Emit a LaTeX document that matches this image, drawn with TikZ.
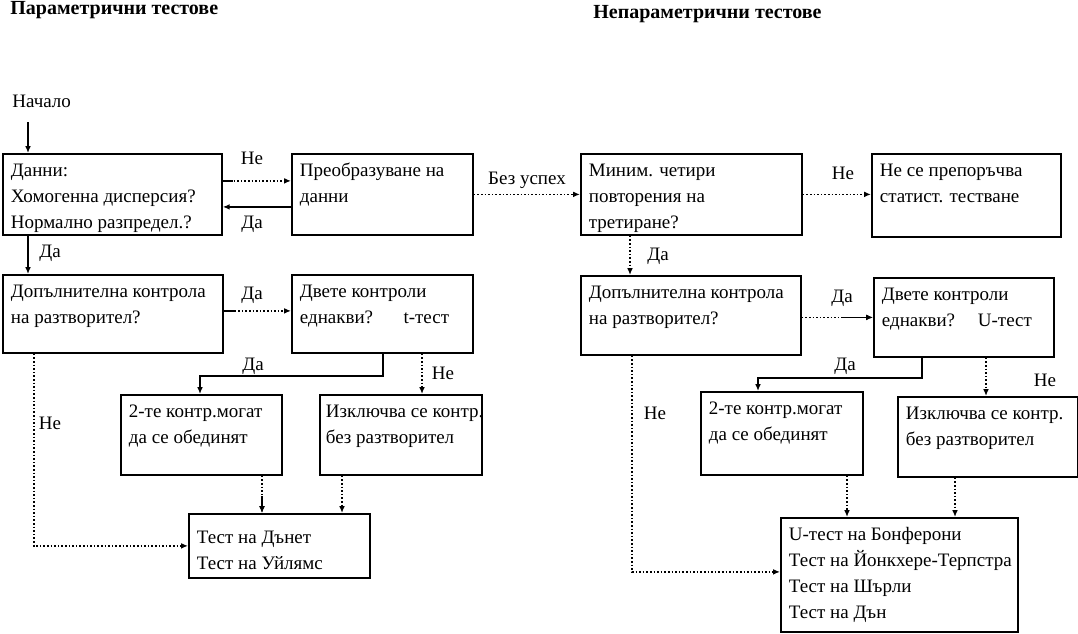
\documentclass[tikz,border=0pt]{standalone}
\usepackage{fontspec}
\setmainfont{Liberation Serif}
\usetikzlibrary{arrows.meta}
\newcommand{\fsz}{\fontsize{9.5}{13}\selectfont}
\newcommand{\cell}[3]{\parbox[t][#2][t]{#1}{\begin{tabular}[t]{@{}l@{}}#3\end{tabular}}}

\begin{document}
\begin{tikzpicture}[x=0.5pt, y=-0.5pt, every node/.style={font=\fsz}, >={Latex[length=1.2mm, width=1mm]},
	box/.style={draw, line width=0.9pt, anchor=north west, inner xsep=4pt, inner ysep=2pt},
	link/.style={->, densely dotted, line width=0.8pt},
	plain/.style={->, line width=0.8pt},
	lbl/.style={inner sep=0pt}]
	\useasboundingbox (0,0) rectangle (1078,633);
	\node[anchor=west, font=\fontsize{10}{12}\selectfont\bfseries, inner sep=0pt] (tpar) at (10,10) {Параметрични тестове};
	\node[anchor=west, font=\fontsize{10}{12}\selectfont\bfseries, inner sep=0pt] (tnpar) at (593,14) {Непараметрични тестове};
	\begin{scope}
		\node[anchor=west, inner sep=0pt] (start) at (12,101) {Начало}; \coordinate (s) at (28,122);
		\node[box] (dat) at (2,153) {\cell{101.5pt}{36.5pt}{Данни:\\Хомогенна дисперсия?\\Нормално разпредел.?}};
		\node[box] (trf) at (291,153) {\cell{82.5pt}{36.5pt}{Преобразуване на\\данни}};
		\node[box] (dop) at (2,274) {\cell{102pt}{35pt}{Допълнителна контрола\\на разтворител?}};
		\node[box] (dve) at (291,274) {\cell{82.5pt}{35pt}{Двете контроли\\еднакви?\hspace{1.6em}t-тест}};
		\node[box] (two) at (120,394) {\cell{72.5pt}{36pt}{2-те контр.могат\\да се обединят}};
		\node[box, inner xsep=3pt] (exc) at (319,394) {\cell{75pt}{36pt}{Изключва се контр.\\без разтворител}};
		\node[box] (tst) at (188,513) {\cell{82.5pt}{28pt}{\rule{0pt}{13pt}Тест на Дънет\\Тест на Уйлямс}};
		\draw[plain] (s) -- (s |- dat.north);
		\draw[link] ([yshift=6.75pt]dat.east) -- ([yshift=6.75pt]dat.east -| trf.west); \draw[line width=0.8pt] ([yshift=6.75pt]dat.east) -- ++(10,0);
		\draw[plain] ([yshift=-6.25pt]trf.west) -- ([yshift=-6.25pt]trf.west -| dat.east);
		\draw[plain] (dat.south -| s) -- (dop.north -| s);
		\draw[link] ([yshift=1.5pt]dop.east) -- ([yshift=1.5pt]dop.east -| dve.west); \draw[line width=0.8pt] ([yshift=1.5pt]dop.east) -- ++(12,0);
		\draw[plain] ([xshift=46pt]dve.south west) -- ++(0,22) -| ([xshift=40pt]two.north west);
		\draw[link] ([xshift=65.5pt]dve.south west) coordinate (fh) -- (fh |- exc.north);
		\draw[link] ([xshift=71pt]two.south west) coordinate (gi) -- (gi |- tst.north); \draw[plain] ([yshift=-10pt]gi) -- (gi |- tst.north);
		\draw[link] ([xshift=11.5pt]exc.south west) coordinate (hi) -- (hi |- tst.north);
		\draw[link] ([xshift=16pt]dop.south west) |- (tst.west);
		\node[lbl] (l1) at (252,158) {Не}; \node[lbl] (l2) at (252,224) {Да};
		\node[lbl] (l3) at (50,253) {Да}; \node[lbl] (l4) at (252,295) {Да};
		\node[lbl] (l5) at (253,366) {Да}; \node[lbl] (l6) at (443,373) {Не};
		\node[lbl] (l7) at (50,423) {Не};
	\end{scope}
	\begin{scope}
		\node[box] (mni) at (580,153) {\cell{102.5pt}{36.5pt}{Миним. четири\\повторения на\\третиране?}};
		\node[box] (rec) at (871,153) {\cell{86.5pt}{37.5pt}{Не се препоръчва\\статист. тестване}};
		\node[box] (dpn) at (580,275) {\cell{102pt}{35.5pt}{Допълнителна контрола\\на разтворител?}};
		\node[box] (dvk) at (873,277) {\cell{82pt}{35.5pt}{Двете контроли\\еднакви?\hspace{1.2em}U-тест}};
		\node[box] (twn) at (700,391) {\cell{73pt}{37.5pt}{2-те контр.могат\\да се обединят}};
		\node[box] (exn) at (897,396) {\cell{82pt}{36pt}{Изключва се контр.\\без разтворител}};
		\node[box] (utt) at (780,517) {\cell{110.5pt}{53pt}{U-тест на Бонферони\\Тест на Йонкхере-Терпстра\\Тест на Шърли\\Тест на Дън}};
		\draw[link] (trf.east) -- (trf.east -| mni.west);
		\draw[link] (mni.east) -- (mni.east -| rec.west);
		\draw[link] ([xshift=25pt]mni.south west) coordinate (cj) -- (cj |- dpn.north);
		\draw[link] ([yshift=-1pt]dpn.east) -- ([yshift=-1pt]dpn.east -| dvk.west); \draw[plain] ([yshift=-1pt]dpn.east -| dvk.west) ++(-30,0) -- ([yshift=-1pt]dpn.east -| dvk.west);
		\draw[plain] ([xshift=24.5pt]dvk.south west) -- ++(0,20) -| ([xshift=29pt]twn.north west);
		\draw[link] ([xshift=56.5pt]dvk.south west) coordinate (km) -- (km |- exn.north);
		\draw[link] ([xshift=73.5pt]twn.south west) coordinate (ln) -- (ln |- utt.north);
		\draw[link] ([xshift=29pt]exn.south west) coordinate (mn) -- (mn |- utt.north);
		\draw[link] ([xshift=26pt]dpn.south west) |- ([yshift=1.5pt]utt.west);
		\node[lbl] (r1) at (527,180) {Без успех}; \node[lbl] (r2) at (843,173) {Не};
		\node[lbl] (r3) at (658,256) {Да}; \node[lbl] (r4) at (842,298) {Да};
		\node[lbl] (r5) at (845,366) {Да}; \node[lbl] (r6) at (1045,380) {Не};
		\node[lbl] (r7) at (655,413) {Не};
	\end{scope}
\end{tikzpicture}
\end{document}
